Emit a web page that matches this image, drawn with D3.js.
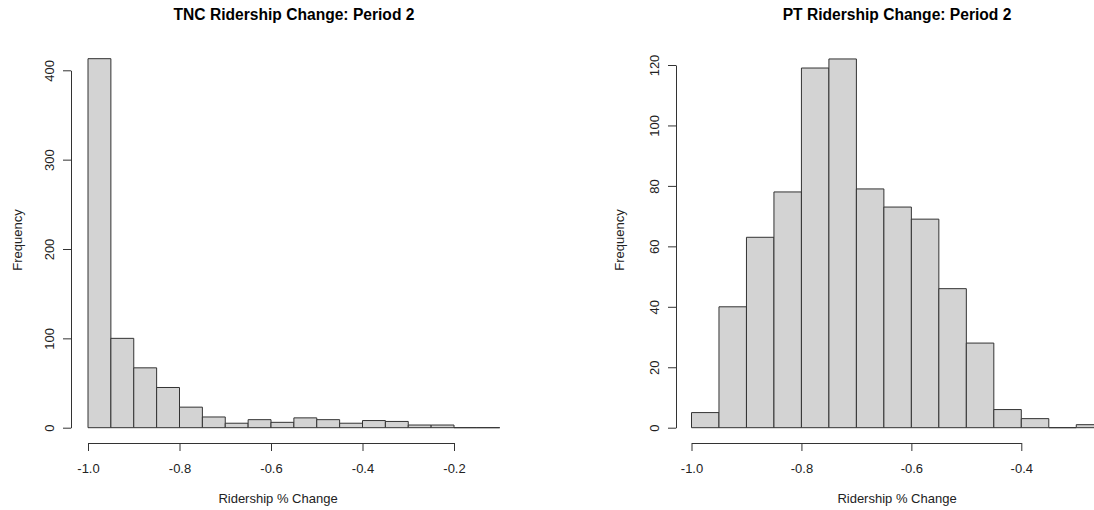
<!DOCTYPE html>
<html>
<head>
<meta charset="utf-8">
<script src="https://cdn.jsdelivr.net/npm/d3@7"></script>
<style>
  body { margin: 0; background: #fff; overflow: hidden; }
  text { font-family: "Liberation Sans", Arial, sans-serif; fill: #222; }
</style>
</head>
<body>
<script>
// histogram bins (left edges), counts and tick labels
const tncBinStarts = [-1.0, -0.95, -0.9, -0.85, -0.8, -0.75, -0.7, -0.65, -0.6, -0.55, -0.5, -0.45, -0.4, -0.35, -0.3, -0.25, -0.2, -0.15];
const tncCounts = [413, 100, 67, 45, 23, 12, 5, 9, 6, 11, 9, 5, 8, 7, 3, 3, 0, 0];
const tncXTicks = [-1.0, -0.8, -0.6, -0.4, -0.2];
const tncYTicks = [0, 100, 200, 300, 400];

const ptBinStarts = [-1.0, -0.95, -0.9, -0.85, -0.8, -0.75, -0.7, -0.65, -0.6, -0.55, -0.5, -0.45, -0.4, -0.35, -0.3];
const ptCounts = [5, 40, 63, 78, 119, 122, 79, 73, 69, 46, 28, 6, 3, 0, 1];
const ptXTicks = [-1.0, -0.8, -0.6, -0.4];
const ptYTicks = [0, 20, 40, 60, 80, 100, 120];

const binWidth = 0.05;

const svg = d3.select("body").append("svg")
  .attr("width", 1094)
  .attr("height", 510);

function hist(opt) {
  const x = d3.scaleLinear().domain(opt.xDomain).range(opt.xRange);
  const y = d3.scaleLinear().domain(opt.yDomain).range([427.7, opt.yTop]);
  const g = svg.append("g");

  // paths instead of rects so that empty bins still show as a line (like R)
  g.selectAll("path.bar")
    .data(opt.starts)
    .enter()
    .append("path")
    .attr("class", "bar")
    .attr("d", (d, i) => {
      const x0 = x(d), x1 = x(d + binWidth);
      const y0 = y(0), y1 = y(opt.counts[i]);
      return `M${x0},${y0}L${x0},${y1}L${x1},${y1}L${x1},${y0}Z`;
    })
    .attr("fill", "#d3d3d3")
    .attr("stroke", "#333")
    .attr("stroke-width", 1);

  // x axis
  const xa = g.append("g")
    .attr("transform", "translate(0,443)")
    .call(d3.axisBottom(x).tickValues(opt.xTicks).tickSize(8).tickSizeOuter(0)
      .tickFormat(d => d.toFixed(1)));
  xa.select(".domain").attr("stroke", "#333");
  xa.selectAll(".tick line").attr("stroke", "#333");
  xa.selectAll("text").attr("font-size", 13).attr("fill", "#222").attr("dy", null).attr("y", 30);
  xa.attr("font-family", null);

  // y axis
  const ya = g.append("g")
    .attr("transform", `translate(${opt.yAxisX},0)`)
    .call(d3.axisLeft(y).tickValues(opt.yTicks).tickSize(8).tickSizeOuter(0));
  ya.select(".domain").attr("stroke", "#333");
  ya.selectAll(".tick line").attr("stroke", "#333");
  ya.selectAll("text")
    .attr("font-size", 13).attr("fill", "#222")
    .attr("x", null).attr("dy", null)
    .attr("text-anchor", "middle")
    .attr("transform", "translate(-17,0) rotate(-90)");
  ya.attr("font-family", null);

  g.append("text")
    .attr("x", opt.titleX).attr("y", 20)
    .attr("text-anchor", "middle")
    .attr("font-size", 15.6).attr("font-weight", "bold").style("fill", "#000")
    .text(opt.title);

  g.append("text")
    .attr("x", opt.xLabelX).attr("y", 503)
    .attr("text-anchor", "middle")
    .attr("font-size", 13)
    .text("Ridership % Change");

  g.append("text")
    .attr("transform", `translate(${opt.yLabelX},240) rotate(-90)`)
    .attr("text-anchor", "middle")
    .attr("font-size", 13)
    .text("Frequency");
}

hist({
  starts: tncBinStarts, counts: tncCounts,
  xDomain: [-1.0, -0.2], xRange: [88, 454], xTicks: tncXTicks,
  yDomain: [0, 400], yTop: 70.3, yTicks: tncYTicks, yAxisX: 71,
  title: "TNC Ridership Change: Period 2", titleX: 294,
  xLabelX: 278, yLabelX: 22
});

hist({
  starts: ptBinStarts, counts: ptCounts,
  xDomain: [-1.0, -0.4], xRange: [691.5, 1021.3], xTicks: ptXTicks,
  yDomain: [0, 120], yTop: 65, yTicks: ptYTicks, yAxisX: 676,
  title: "PT Ridership Change: Period 2", titleX: 897,
  xLabelX: 897, yLabelX: 624
});
</script>
</body>
</html>
